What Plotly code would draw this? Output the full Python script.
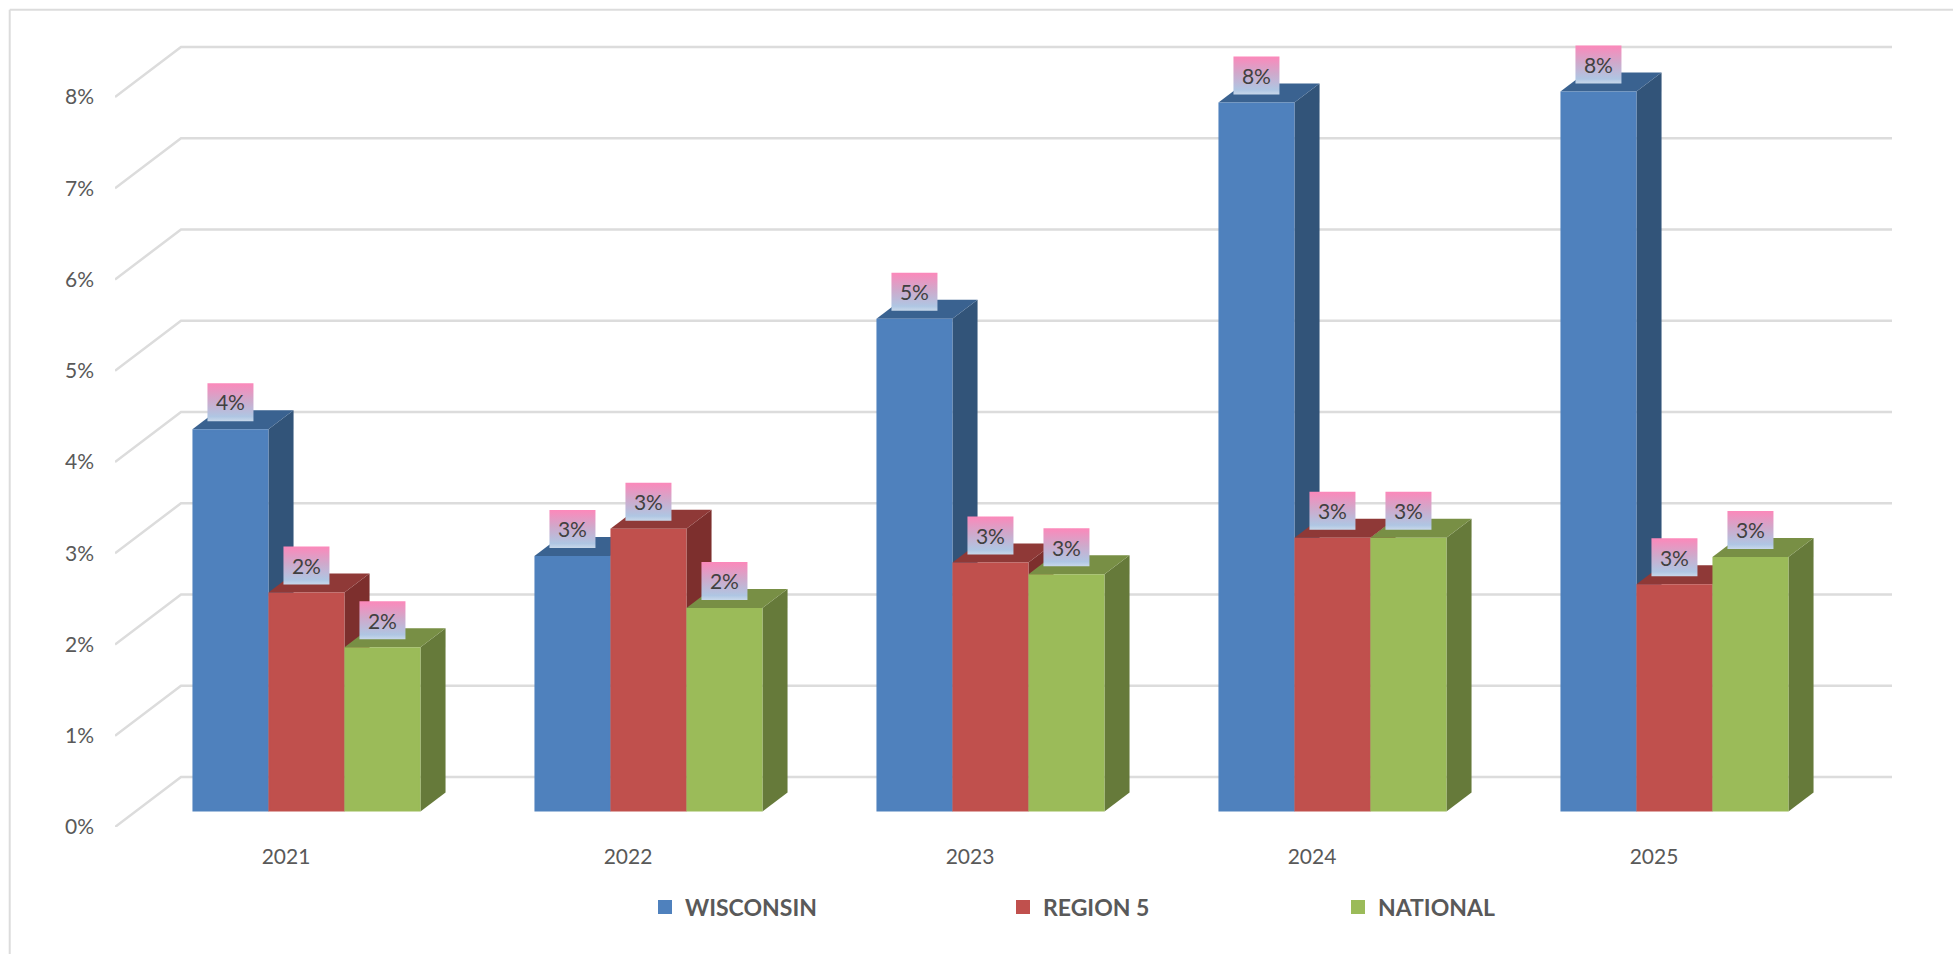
import plotly.graph_objects as go

# ---------- data ----------
YEARS = ["2021", "2022", "2023", "2024", "2025"]
WISCONSIN = [4.19, 2.80, 5.40, 7.77, 7.89]
REGION_5 = [2.40, 3.10, 2.73, 3.00, 2.49]
NATIONAL = [1.80, 2.23, 2.60, 3.00, 2.79]
WISCONSIN_LABELS = ["4%", "3%", "5%", "8%", "8%"]
REGION_5_LABELS = ["2%", "3%", "3%", "3%", "3%"]
NATIONAL_LABELS = ["2%", "2%", "3%", "3%", "3%"]
Y_TICKS = [0, 1, 2, 3, 4, 5, 6, 7, 8]
Y_TICK_TEXT = ["0%", "1%", "2%", "3%", "4%", "5%", "6%", "7%", "8%"]

SERIES_NAMES = ["WISCONSIN", "REGION 5", "NATIONAL"]
FRONT = ["#4F81BD", "#C0504D", "#9BBB59"]
SIDE = ["#325479", "#7D2F2D", "#667A3A"]
TOP = ["#3A6290", "#8F3937", "#788F45"]

# ---------- layout geometry (pixels of the 1953x954 page) ----------
W, H = 1953, 954
PLOT_L, PLOT_R, PLOT_T, PLOT_B = 115, 1892, 33, 827
PX_PER_X = 342.0      # one category
PX_PER_Y = 91.25      # one percentage point
X_MIN = -0.5
X_MAX = X_MIN + (PLOT_R - PLOT_L) / PX_PER_X
Y_MAX = (PLOT_B - PLOT_T) / PX_PER_Y


def xu(px):
    return px / PX_PER_X


def yu(px):
    return px / PX_PER_Y


DEPTH_X, DEPTH_Y = xu(66), yu(50)   # oblique offset of the back wall
BAR_NEAR, BAR_FAR = 0.31, 0.69      # bar depth, 0 = front, 1 = back wall
BAR_W = xu(76)
BAR_LINE = 2
BOX_W, BOX_GAP, BOX_H = xu(46), yu(8), yu(38)

ALL = [WISCONSIN, REGION_5, NATIONAL]
ALL_LABELS = [WISCONSIN_LABELS, REGION_5_LABELS, NATIONAL_LABELS]
GRID = "#DCDCDC"
TEXT = "#595959"
FONT = "Lato"

fig = go.Figure()

# gridlines: diagonal on the side wall, then along the back wall
gx, gy = [], []
for t in Y_TICKS:
    gx += [X_MIN, X_MIN + DEPTH_X, X_MAX, None]
    gy += [t, t + DEPTH_Y, t + DEPTH_Y, None]
fig.add_trace(go.Scatter(x=gx, y=gy, mode="lines", line=dict(color=GRID, width=2.5),
                         showlegend=False, hoverinfo="skip", cliponaxis=False, zorder=0))

dx0, dx1 = BAR_NEAR * DEPTH_X, BAR_FAR * DEPTH_X
dy0, dy1 = BAR_NEAR * DEPTH_Y, BAR_FAR * DEPTH_Y

for k, (name, vals) in enumerate(zip(SERIES_NAMES, ALL)):
    centers = [i + dx0 + (k - 1) * BAR_W for i in range(len(YEARS))]
    for c, v in zip(centers, vals):
        r = c + BAR_W / 2
        l = c - BAR_W / 2
        # right side face
        fig.add_trace(go.Scatter(
            x=[r, r + dx1 - dx0, r + dx1 - dx0, r, r],
            y=[dy0, dy1, v + dy1, v + dy0, dy0],
            mode="lines", fill="toself", fillcolor=SIDE[k], line=dict(width=0),
            showlegend=False, hoverinfo="skip", zorder=2 * k + 1))
        # top face
        fig.add_trace(go.Scatter(
            x=[l, l + dx1 - dx0, r + dx1 - dx0, r, l],
            y=[v + dy0, v + dy1, v + dy1, v + dy0, v + dy0],
            mode="lines", fill="toself", fillcolor=TOP[k], line=dict(width=0),
            showlegend=False, hoverinfo="skip", zorder=2 * k + 1))
    # front faces; the outline in the same colour also enlarges the legend swatch
    fig.add_trace(go.Bar(
        x=centers, y=[v - yu(BAR_LINE) for v in vals], base=dy0 + yu(BAR_LINE / 2),
        width=BAR_W - xu(BAR_LINE), name=name,
        marker=dict(color=FRONT[k], line=dict(width=BAR_LINE, color=FRONT[k])),
        legend="legend" if k == 0 else f"legend{k + 1}",
        zorder=2 * k + 2))

# data labels with a vertical gradient box
GRADIENT = [[0, "#C8D8EA"], [0.12, "#AFC6E3"], [0.55, "#CFA9CB"], [1, "#FC88BA"]]
for k, (vals, labels) in enumerate(zip(ALL, ALL_LABELS)):
    for i, (v, lab) in enumerate(zip(vals, labels)):
        c = i + dx0 + (k - 1) * BAR_W
        y0 = v + dy0 + BOX_GAP
        y1 = y0 + BOX_H
        fig.add_trace(go.Scatter(
            x=[c - BOX_W / 2, c + BOX_W / 2, c + BOX_W / 2, c - BOX_W / 2, c - BOX_W / 2],
            y=[y0, y0, y1, y1, y0], mode="lines", fill="toself",
            fillgradient=dict(type="vertical", colorscale=GRADIENT, start=y0, stop=y1),
            line=dict(width=0), showlegend=False, hoverinfo="skip",
            cliponaxis=False, zorder=10))
        fig.add_trace(go.Scatter(
            x=[c], y=[(y0 + y1) / 2 - yu(3)], mode="text", text=[lab],
            textposition="middle center", textfont=dict(family=FONT, size=21, color="#404040"),
            showlegend=False, hoverinfo="skip", cliponaxis=False, zorder=11))


def paper_x(px):
    return (px - PLOT_L) / (PLOT_R - PLOT_L)


def paper_y(py):
    return (PLOT_B - py) / (PLOT_B - PLOT_T)


legend_base = dict(orientation="h", xanchor="left", yanchor="middle", y=paper_y(907),
                   bgcolor="rgba(0,0,0,0)", itemclick=False, itemdoubleclick=False,
                   font=dict(family=FONT, size=23, color=TEXT, weight=700))

fig.update_layout(
    width=W, height=H, showlegend=True, barmode="overlay",
    paper_bgcolor="white", plot_bgcolor="white",
    margin=dict(l=PLOT_L, r=W - PLOT_R, t=PLOT_T, b=H - PLOT_B, autoexpand=False),
    xaxis=dict(range=[X_MIN, X_MAX], tickmode="array", tickvals=list(range(len(YEARS))),
               ticktext=YEARS, showgrid=False, zeroline=False, showline=False, ticks="",
               ticklabelstandoff=15, tickfont=dict(family=FONT, size=21, color=TEXT)),
    yaxis=dict(range=[0, Y_MAX], tickmode="array", tickvals=Y_TICKS, ticktext=Y_TICK_TEXT,
               showgrid=False, zeroline=False, showline=False, ticks="",
               ticklabelstandoff=20, tickfont=dict(family=FONT, size=21, color=TEXT)),
    legend=dict(legend_base, x=paper_x(645)),
    legend2=dict(legend_base, x=paper_x(1003)),
    legend3=dict(legend_base, x=paper_x(1338)),
    shapes=[
        dict(type="line", xref="paper", yref="paper", x0=paper_x(9.7), x1=paper_x(9.7),
             y0=paper_y(9.7), y1=paper_y(H), line=dict(color=GRID, width=2)),
        dict(type="line", xref="paper", yref="paper", x0=paper_x(9.7), x1=paper_x(W),
             y0=paper_y(9.7), y1=paper_y(9.7), line=dict(color=GRID, width=2)),
    ],
)

fig.write_html("out.html", config=dict(displayModeBar=False),
               post_script="document.body.style.margin='0';document.documentElement.style.overflow='hidden';")
